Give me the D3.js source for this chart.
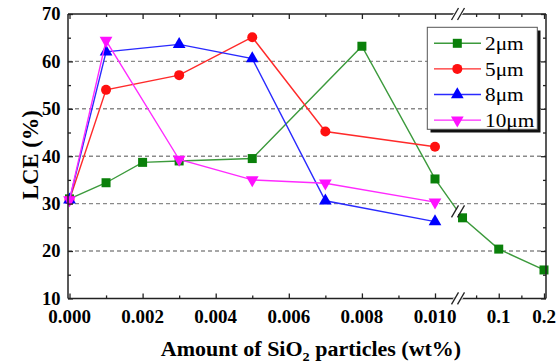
<!DOCTYPE html>
<html>
<head>
<meta charset="utf-8">
<script src="https://cdn.jsdelivr.net/npm/d3@7"></script>
<style>
  body { margin: 0; background: #fff; }
  svg { display: block; font-family: "Liberation Serif", "Times New Roman", serif; }
</style>
</head>
<body>
<svg width="556" height="363"></svg>
<script>
// series names and colours
var seriesNames = ["2\u03bcm", "5\u03bcm", "8\u03bcm", "10\u03bcm"];
var lineColors = ["#3c9a3c", "#ff2a2a", "#2a2aff", "#ff2aff"];
var markColors = ["#0a800a", "#ff1010", "#0000ff", "#ff10ff"];

// SiO2 amount (wt%) and LCE (%) per series
var x2 = [0, 0.001, 0.002, 0.003, 0.005, 0.008, 0.010, 0.02, 0.1, 0.2];
var lce2 = [31.0, 34.4, 38.7, 39.0, 39.5, 63.2, 35.2, 27.0, 20.4, 16.0];
var x5 = [0, 0.001, 0.003, 0.005, 0.007, 0.010];
var lce5 = [30.8, 54.0, 57.1, 65.1, 45.2, 42.0];
var x8 = [0, 0.001, 0.003, 0.005, 0.007, 0.010];
var lce8 = [30.8, 62.0, 63.6, 60.6, 30.6, 26.2];
var x10 = [0, 0.001, 0.003, 0.005, 0.007, 0.010];
var lce10 = [30.8, 64.4, 39.3, 35.0, 34.3, 30.3];

// tick values
var yMajor = [10, 20, 30, 40, 50, 60, 70];
var yMinor = [15, 25, 35, 45, 55, 65];
var yGrid = [20, 30, 40, 50, 60];
var xMajorA = [0, 0.002, 0.004, 0.006, 0.008, 0.010];
var xMinorA = [0.001, 0.003, 0.005, 0.007, 0.009];
var xMajorB = [0.1, 0.2];
var xMinorB = [0.05, 0.15];

var svg = d3.select("svg");
var pLeft = 68, pRight = 546, pTop = 14, pBottom = 298.4, brk = 458;

var y = d3.scaleLinear().domain([10, 70]).range([pBottom, pTop]);
var xa = d3.scaleLinear().domain([0, 0.010]).range([69.5, 435]);
var xb = d3.scaleLinear().domain([0.01, 0.2]).range([brk, 544]);
function x(v) { return v <= 0.0106 ? xa(v) : xb(v); }

// grid
svg.append("g").selectAll("line").data(yGrid).enter().append("line")
  .attr("x1", pLeft).attr("x2", pRight)
  .attr("y1", d => y(d)).attr("y2", d => y(d))
  .attr("stroke", "#8a8a8a").attr("stroke-width", 1.4)
  .attr("stroke-dasharray", "4,3");

// data
var all = [[x2, lce2], [x5, lce5], [x8, lce8], [x10, lce10]];
var line = d3.line().x(d => x(d[0])).y(d => y(d[1]));

function marker(g, i, cx, cy) {
  if (i == 0) {
    g.append("rect").attr("x", cx - 4.5).attr("y", cy - 4.5).attr("width", 9).attr("height", 9)
      .attr("fill", markColors[i]);
  } else if (i == 1) {
    g.append("circle").attr("cx", cx).attr("cy", cy).attr("r", 5).attr("fill", markColors[i]);
  } else if (i == 2) {
    g.append("path").attr("transform", "translate(" + cx + "," + cy + ")")
      .attr("d", d3.symbol().type(d3.symbolTriangle).size(70)()).attr("fill", markColors[i]);
  } else {
    g.append("path").attr("transform", "translate(" + cx + "," + cy + ") rotate(180)")
      .attr("d", d3.symbol().type(d3.symbolTriangle).size(70)()).attr("fill", markColors[i]);
  }
}

all.forEach(function (s, i) {
  var pts = s[0].map((v, j) => [v, s[1][j]]);
  var g = svg.append("g");
  g.append("path").datum(pts).attr("d", line)
    .attr("fill", "none").attr("stroke", lineColors[i]).attr("stroke-width", 1.4);
  pts.forEach(p => marker(g, i, x(p[0]), y(p[1])));
});

// break mark on the 2um line
var ya = y(lce2[6]), yb = y(lce2[7]);
var xa0 = x(x2[6]), xb0 = x(x2[7]);
var yBrk = ya + (yb - ya) * (brk - xa0) / (xb0 - xa0);
function slashes(cx, cy, gap) {
  svg.append("line").attr("x1", cx - gap).attr("x2", cx + gap)
    .attr("y1", cy + gap * 0.6).attr("y2", cy - gap * 0.6)
    .attr("stroke", "#fff").attr("stroke-width", 5);
  [-3, 3].forEach(function (o) {
    svg.append("line").attr("x1", cx + o - 3.5).attr("x2", cx + o + 3.5)
      .attr("y1", cy + 6).attr("y2", cy - 6)
      .attr("stroke", "#222").attr("stroke-width", 1.3);
  });
}

// axes frame
var frame = svg.append("g").attr("stroke", "#222").attr("stroke-width", 1.5);
frame.append("line").attr("x1", pLeft).attr("x2", pLeft).attr("y1", pTop).attr("y2", pBottom);
frame.append("line").attr("x1", pRight).attr("x2", pRight).attr("y1", pTop).attr("y2", pBottom);
frame.append("line").attr("x1", pLeft).attr("x2", pRight).attr("y1", pTop).attr("y2", pTop);
frame.append("line").attr("x1", pLeft).attr("x2", pRight).attr("y1", pBottom).attr("y2", pBottom);

// y axes (left labelled, right mirrored) with inward ticks
function tickOnly(g) { g.select(".domain").remove(); g.selectAll("line").attr("stroke", "#222").attr("stroke-width", 1.3); }
svg.append("g").attr("transform", "translate(" + pLeft + ",0)")
  .call(d3.axisRight(y).tickValues(yMajor).tickSize(5).tickFormat(""))
  .call(tickOnly);
svg.append("g").attr("transform", "translate(" + pLeft + ",0)")
  .call(d3.axisRight(y).tickValues(yMinor).tickSize(3).tickFormat(""))
  .call(tickOnly);
svg.append("g").attr("transform", "translate(" + pRight + ",0)")
  .call(d3.axisLeft(y).tickValues(yMajor).tickSize(5).tickFormat(""))
  .call(tickOnly);
svg.append("g").attr("transform", "translate(" + pRight + ",0)")
  .call(d3.axisLeft(y).tickValues(yMinor).tickSize(3).tickFormat(""))
  .call(tickOnly);
svg.append("g").selectAll("text").data(yMajor).enter().append("text")
  .attr("x", 60.5).attr("y", d => y(d)).attr("dy", "0.35em")
  .attr("text-anchor", "end").attr("font-size", 18.5).attr("font-weight", "bold")
  .text(d => d);

// x axes, both segments, ticks inward on bottom and top
[[xa, xMajorA, xMinorA], [xb, xMajorB, xMinorB]].forEach(function (seg) {
  svg.append("g").attr("transform", "translate(0," + pBottom + ")")
    .call(d3.axisTop(seg[0]).tickValues(seg[1]).tickSize(5).tickFormat("")).call(tickOnly);
  svg.append("g").attr("transform", "translate(0," + pBottom + ")")
    .call(d3.axisTop(seg[0]).tickValues(seg[2]).tickSize(3).tickFormat("")).call(tickOnly);
  svg.append("g").attr("transform", "translate(0," + pTop + ")")
    .call(d3.axisBottom(seg[0]).tickValues(seg[1]).tickSize(5).tickFormat("")).call(tickOnly);
  svg.append("g").attr("transform", "translate(0," + pTop + ")")
    .call(d3.axisBottom(seg[0]).tickValues(seg[2]).tickSize(3).tickFormat("")).call(tickOnly);
});
svg.append("g").selectAll("text").data(xMajorA).enter().append("text")
  .attr("x", d => xa(d)).attr("y", 323).attr("text-anchor", "middle")
  .attr("font-size", 19).attr("font-weight", "bold").text(d3.format(".3f"));
svg.append("g").selectAll("text").data(xMajorB).enter().append("text")
  .attr("x", d => xb(d)).attr("y", 323).attr("text-anchor", "middle")
  .attr("font-size", 19).attr("font-weight", "bold").text(d => d);

// break marks
slashes(brk, pBottom, 4);
slashes(brk, pTop, 4);
slashes(brk, yBrk, 4);

// titles
svg.append("text").attr("transform", "translate(38,155) rotate(-90)")
  .attr("text-anchor", "middle").attr("font-size", 22.5).attr("font-weight", "bold")
  .text("LCE (%)");
var xt = svg.append("g").attr("transform", "translate(311,356) scale(1.1,1)")
  .append("text").attr("text-anchor", "middle")
  .attr("font-size", 20).attr("font-weight", "bold");
xt.append("tspan").text("Amount of SiO");
xt.append("tspan").attr("font-size", 13).attr("dy", 5).text("2");
xt.append("tspan").attr("dy", -5).text(" particles (wt%)");

// legend
var lg = svg.append("g");
lg.append("rect").attr("x", 430.5).attr("y", 30.5).attr("width", 110).attr("height", 102).attr("fill", "#111");
lg.append("rect").attr("x", 427.3).attr("y", 27.3).attr("width", 110).attr("height", 102)
  .attr("fill", "#fff").attr("stroke", "#555").attr("stroke-width", 1);
seriesNames.forEach(function (n, i) {
  var ly = 43.3 + i * 25.6;
  lg.append("line").attr("x1", 434).attr("x2", 481).attr("y1", ly).attr("y2", ly)
    .attr("stroke", lineColors[i]).attr("stroke-width", 1.4);
  marker(lg, i, 457.3, ly);
  lg.append("text").attr("transform", "translate(485," + ly + ") scale(1.12,1)")
    .attr("dy", "0.35em").attr("font-size", 19).text(n);
});
</script>
</body>
</html>
